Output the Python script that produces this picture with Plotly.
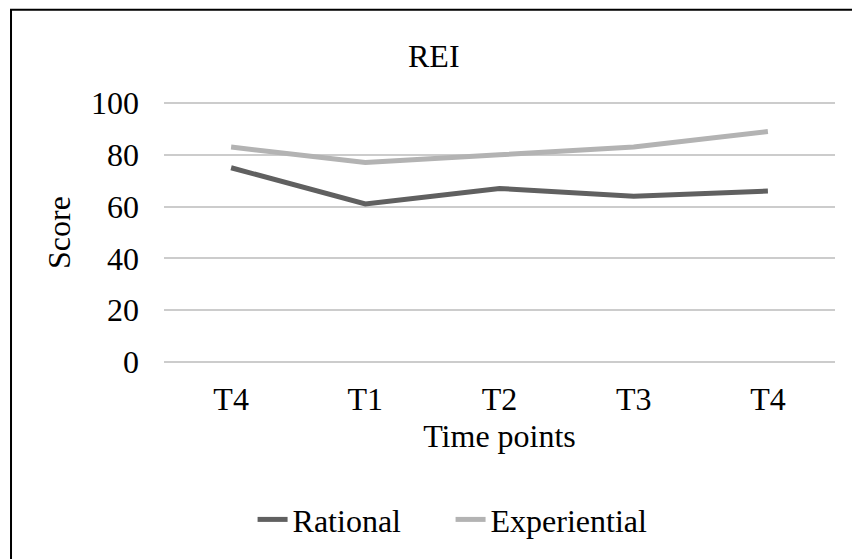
import plotly.graph_objects as go

# REI scores across the measurement time points
time_points = ["T4", "T1", "T2", "T3", "T4"]
rational = [75, 61, 67, 64, 66]
experiential = [83, 77, 80, 83, 89]
y_ticks = [0, 20, 40, 60, 80, 100]

FONT = "Liberation Serif"
FS = 32
x_pos = list(range(len(time_points)))

fig = go.Figure()
fig.add_trace(go.Scatter(
    x=x_pos, y=rational, name="Rational", mode="lines",
    line=dict(color="#606060", width=5),
))
fig.add_trace(go.Scatter(
    x=x_pos, y=experiential, name="Experiential", mode="lines",
    line=dict(color="#b3b3b3", width=5),
))

fig.update_layout(
    width=852, height=559,
    margin=dict(l=164, r=17, t=102, b=193),
    paper_bgcolor="white", plot_bgcolor="white",
    font=dict(family=FONT, size=FS, color="black"),
    showlegend=True,
    legend=dict(
        orientation="h", x=0.132, xanchor="left", y=-0.60, yanchor="middle",
        font=dict(family=FONT, size=FS, color="black"),
        itemwidth=30, tracegroupgap=0,
        entrywidth=153, entrywidthmode="pixels",
    ),
    xaxis=dict(
        range=[-0.5, len(time_points) - 0.5],
        tickmode="array", tickvals=x_pos, ticktext=time_points,
        showgrid=False, zeroline=False, showline=False, ticks="",
        ticklabelstandoff=14,
        title=dict(text="Time points", standoff=8, font=dict(size=FS)),
    ),
    yaxis=dict(
        range=[-0.4, 100.4], tickmode="array", tickvals=y_ticks,
        showgrid=True, gridcolor="#cccccc", gridwidth=2,
        zeroline=False, showline=False, ticks="",
        ticklabelstandoff=24,
        title=dict(text="Score", standoff=10, font=dict(size=FS)),
    ),
    annotations=[dict(
        text="REI", xref="paper", yref="paper", x=0.402, y=1.175,
        xanchor="center", yanchor="middle", showarrow=False,
        font=dict(family=FONT, size=FS, color="black"),
    )],
    shapes=[dict(
        type="rect", xref="paper", yref="paper",
        x0=-0.228, x1=1.033, y0=-0.78, y1=1.353,
        line=dict(color="black", width=2), fillcolor="rgba(0,0,0,0)",
    )],
)

fig.write_html("out.html")
